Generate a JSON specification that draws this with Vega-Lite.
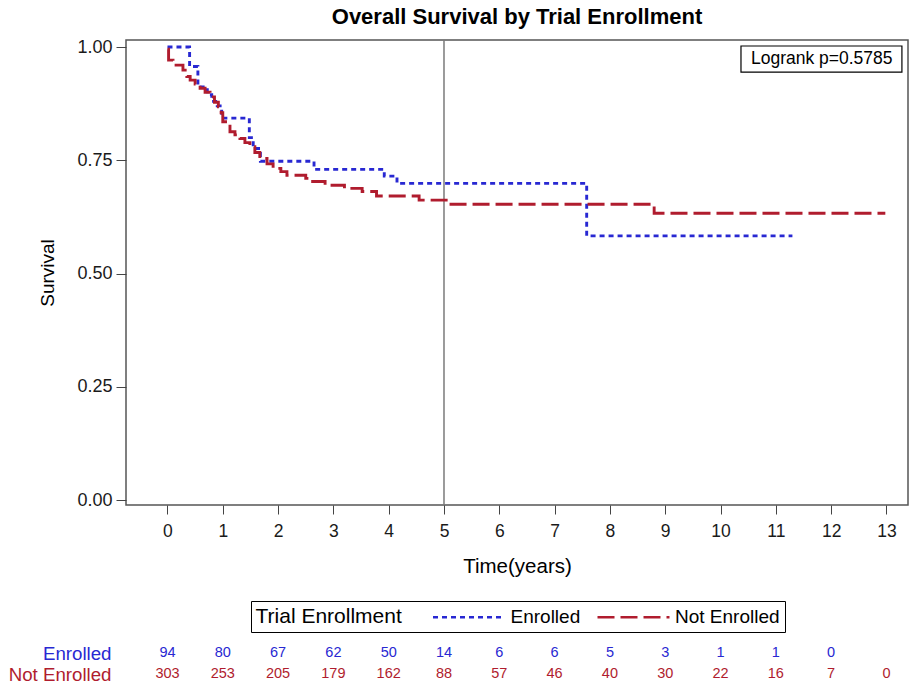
{
  "$schema": "https://vega.github.io/schema/vega-lite/v6.json",
  "width": 782,
  "height": 465,
  "autosize": {"type": "none"},
  "padding": {"left": 126, "top": 40, "right": 1, "bottom": 181},
  "background": "white",
  "config": {
    "font": "Liberation Sans",
    "view": {"stroke": "#555555", "strokeWidth": 1.5},
    "axis": {"grid": false, "domain": false, "tickColor": "#444444", "labelColor": "#1a1a1a", "titleColor": "#000000", "titleFontWeight": "normal"},
    "legend": {
      "orient": "none",
      "legendX": 125,
      "legendY": 561,
      "direction": "horizontal",
      "titleOrient": "left",
      "titleFontSize": 21,
      "titleFontWeight": "normal",
      "titleColor": "#000000",
      "titlePadding": 55,
      "labelFontSize": 19,
      "labelColor": "#000000",
      "labelOffset": 30,
      "columnPadding": 11.5,
      "symbolType": "M-3.6,0H3.6",
      "symbolSize": 400,
      "symbolStrokeWidth": 2.6,
      "strokeColor": "#000000",
      "fillColor": "white",
      "padding": 4.5
    }
  },
  "title": {"text": "Overall Survival by Trial Enrollment", "fontSize": 22, "fontWeight": "bold", "anchor": "middle", "offset": 9, "color": "#000000"},
  "datasets": {
    "km": [
      {"group": "Enrolled", "time": 0, "survival": 1.0},
      {"group": "Enrolled", "time": 0.40, "survival": 0.957},
      {"group": "Enrolled", "time": 0.55, "survival": 0.912},
      {"group": "Enrolled", "time": 0.72, "survival": 0.895},
      {"group": "Enrolled", "time": 0.80, "survival": 0.88},
      {"group": "Enrolled", "time": 0.90, "survival": 0.87},
      {"group": "Enrolled", "time": 0.98, "survival": 0.843},
      {"group": "Enrolled", "time": 1.48, "survival": 0.80},
      {"group": "Enrolled", "time": 1.55, "survival": 0.776},
      {"group": "Enrolled", "time": 1.68, "survival": 0.748},
      {"group": "Enrolled", "time": 2.65, "survival": 0.73},
      {"group": "Enrolled", "time": 3.92, "survival": 0.715},
      {"group": "Enrolled", "time": 4.15, "survival": 0.699},
      {"group": "Enrolled", "time": 7.58, "survival": 0.583},
      {"group": "Enrolled", "time": 11.3, "survival": 0.583},
      {"group": "Not Enrolled", "time": 0, "survival": 0.995},
      {"group": "Not Enrolled", "time": 0.02, "survival": 0.971},
      {"group": "Not Enrolled", "time": 0.10, "survival": 0.96},
      {"group": "Not Enrolled", "time": 0.28, "survival": 0.949},
      {"group": "Not Enrolled", "time": 0.35, "survival": 0.935},
      {"group": "Not Enrolled", "time": 0.41, "survival": 0.927},
      {"group": "Not Enrolled", "time": 0.50, "survival": 0.918},
      {"group": "Not Enrolled", "time": 0.59, "survival": 0.909},
      {"group": "Not Enrolled", "time": 0.68, "survival": 0.90},
      {"group": "Not Enrolled", "time": 0.77, "survival": 0.89},
      {"group": "Not Enrolled", "time": 0.85, "survival": 0.878},
      {"group": "Not Enrolled", "time": 0.92, "survival": 0.868},
      {"group": "Not Enrolled", "time": 0.97, "survival": 0.855},
      {"group": "Not Enrolled", "time": 1.00, "survival": 0.835},
      {"group": "Not Enrolled", "time": 1.13, "survival": 0.813},
      {"group": "Not Enrolled", "time": 1.22, "survival": 0.806},
      {"group": "Not Enrolled", "time": 1.31, "survival": 0.798},
      {"group": "Not Enrolled", "time": 1.40, "survival": 0.789},
      {"group": "Not Enrolled", "time": 1.49, "survival": 0.78},
      {"group": "Not Enrolled", "time": 1.58, "survival": 0.767},
      {"group": "Not Enrolled", "time": 1.67, "survival": 0.754},
      {"group": "Not Enrolled", "time": 1.80, "survival": 0.742},
      {"group": "Not Enrolled", "time": 1.91, "survival": 0.732},
      {"group": "Not Enrolled", "time": 2.05, "survival": 0.725},
      {"group": "Not Enrolled", "time": 2.16, "survival": 0.717},
      {"group": "Not Enrolled", "time": 2.50, "survival": 0.71},
      {"group": "Not Enrolled", "time": 2.58, "survival": 0.703},
      {"group": "Not Enrolled", "time": 2.85, "survival": 0.695},
      {"group": "Not Enrolled", "time": 3.20, "survival": 0.688},
      {"group": "Not Enrolled", "time": 3.52, "survival": 0.681},
      {"group": "Not Enrolled", "time": 3.78, "survival": 0.671},
      {"group": "Not Enrolled", "time": 4.55, "survival": 0.662},
      {"group": "Not Enrolled", "time": 5.07, "survival": 0.653},
      {"group": "Not Enrolled", "time": 8.80, "survival": 0.633},
      {"group": "Not Enrolled", "time": 12.98, "survival": 0.633}
    ],
    "atrisk": [
      {"group": "Enrolled", "time": 0, "n": 94},
      {"group": "Enrolled", "time": 1, "n": 80},
      {"group": "Enrolled", "time": 2, "n": 67},
      {"group": "Enrolled", "time": 3, "n": 62},
      {"group": "Enrolled", "time": 4, "n": 50},
      {"group": "Enrolled", "time": 5, "n": 14},
      {"group": "Enrolled", "time": 6, "n": 6},
      {"group": "Enrolled", "time": 7, "n": 6},
      {"group": "Enrolled", "time": 8, "n": 5},
      {"group": "Enrolled", "time": 9, "n": 3},
      {"group": "Enrolled", "time": 10, "n": 1},
      {"group": "Enrolled", "time": 11, "n": 1},
      {"group": "Enrolled", "time": 12, "n": 0},
      {"group": "Not Enrolled", "time": 0, "n": 303},
      {"group": "Not Enrolled", "time": 1, "n": 253},
      {"group": "Not Enrolled", "time": 2, "n": 205},
      {"group": "Not Enrolled", "time": 3, "n": 179},
      {"group": "Not Enrolled", "time": 4, "n": 162},
      {"group": "Not Enrolled", "time": 5, "n": 88},
      {"group": "Not Enrolled", "time": 6, "n": 57},
      {"group": "Not Enrolled", "time": 7, "n": 46},
      {"group": "Not Enrolled", "time": 8, "n": 40},
      {"group": "Not Enrolled", "time": 9, "n": 30},
      {"group": "Not Enrolled", "time": 10, "n": 22},
      {"group": "Not Enrolled", "time": 11, "n": 16},
      {"group": "Not Enrolled", "time": 12, "n": 7},
      {"group": "Not Enrolled", "time": 13, "n": 0}
    ]
  },
  "layer": [
    {
      "layer": [
        {
          "data": {"values": [{}]},
          "mark": {"type": "rule", "color": "#7a7a7a", "strokeWidth": 1.5},
          "encoding": {"x": {"datum": 5, "type": "quantitative"}}
        },
        {
          "data": {"name": "km"},
          "mark": {"type": "line", "interpolate": "step-after", "strokeWidth": 2.9},
          "encoding": {
            "x": {
              "field": "time", "type": "quantitative",
              "scale": {"domain": [-0.75, 13.39], "nice": false, "zero": false},
              "axis": {"values": [0,1,2,3,4,5,6,7,8,9,10,11,12,13], "format": "d", "title": "Time(years)", "tickSize": 9, "labelPadding": 8, "labelFontSize": 17.5, "titleFontSize": 20.5, "titlePadding": 17}
            },
            "y": {
              "field": "survival", "type": "quantitative",
              "scale": {"domain": [-0.011, 1.0155], "nice": false, "zero": false},
              "axis": {"values": [0, 0.25, 0.5, 0.75, 1], "format": ".2f", "title": "Survival", "tickSize": 10, "labelPadding": 4, "labelFontSize": 18, "titleFontSize": 19, "titlePadding": 19}
            },
            "color": {
              "field": "group", "type": "nominal",
              "scale": {"domain": ["Enrolled", "Not Enrolled"], "range": ["#2828d2", "#b01c2e"]},
              "legend": {"title": "Trial Enrollment"}
            },
            "strokeDash": {
              "field": "group", "type": "nominal",
              "scale": {"domain": ["Enrolled", "Not Enrolled"], "range": [[5, 4], [17, 6]]},
              "legend": {"title": "Trial Enrollment"}
            }
          }
        },
        {
          "data": {"values": [{}]},
          "mark": {"type": "rect", "fill": "white", "stroke": "#000000", "strokeWidth": 1.2},
          "encoding": {
            "x": {"datum": 10.37, "type": "quantitative"},
            "x2": {"datum": 13.28},
            "y": {"datum": 1.0022, "type": "quantitative"},
            "y2": {"datum": 0.9448}
          }
        },
        {
          "data": {"values": [{}]},
          "mark": {"type": "text", "text": "Logrank p=0.5785", "fontSize": 17.5, "color": "#000000", "baseline": "middle", "align": "center"},
          "encoding": {
            "x": {"datum": 11.83, "type": "quantitative"},
            "y": {"datum": 0.9735, "type": "quantitative"}
          }
        }
      ]
    },
    {
      "data": {"name": "atrisk"},
      "mark": {"type": "text", "fontSize": 14.5, "baseline": "middle", "align": "center"},
      "encoding": {
        "x": {"field": "time", "type": "quantitative", "scale": {"domain": [-0.75, 13.39], "nice": false, "zero": false}},
        "y": {
          "field": "group", "type": "nominal",
          "scale": {"type": "point", "domain": ["Enrolled", "Not Enrolled"], "range": [613, 634], "padding": 0},
          "axis": {"orient": "left", "title": null, "domain": false, "ticks": false, "labelPadding": 15, "labelFontSize": 18.7, "labelColor": {"condition": {"test": "datum.value == 'Enrolled'", "value": "#2828d2"}, "value": "#b01c2e"}}
        },
        "text": {"field": "n", "type": "quantitative"},
        "color": {"condition": {"test": "datum.group == 'Enrolled'", "value": "#2828d2"}, "value": "#b01c2e"}
      }
    }
  ],
  "resolve": {"scale": {"y": "independent"}}
}
